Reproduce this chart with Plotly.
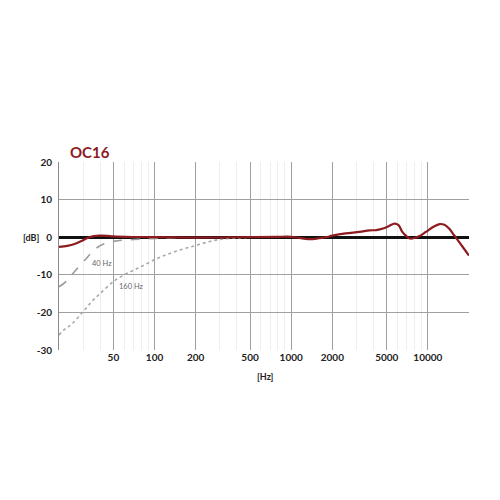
import plotly.graph_objects as go
import numpy as np

# Main response (OC16)
main_hz = [20, 23, 26, 30, 33, 36, 40, 45, 50, 70, 100, 200, 500, 800, 1000, 1150, 1330, 1550, 1800, 2000, 2500, 3160, 3740, 4190, 4700, 5200, 5700, 6100, 6500, 7000, 7400, 8000, 8700, 9660, 11000, 12200, 13200, 14300, 15200, 16100, 18000, 20000]
main_db = [-2.6, -2.3, -1.8, -0.8, -0.1, 0.3, 0.4, 0.35, 0.2, 0.05, 0.0, -0.1, 0.0, 0.1, 0.1, -0.2, -0.5, -0.35, 0.0, 0.4, 1.0, 1.4, 1.8, 1.9, 2.3, 3.0, 3.6, 3.2, 1.4, 0.2, -0.35, -0.2, 0.3, 1.4, 2.8, 3.5, 3.3, 2.3, 1.0, -0.2, -2.6, -4.9]

# 40 Hz low-cut
lc40_hz = [20, 22.5, 24.7, 28, 31.8, 35, 38.6, 42, 45.7, 50, 57.3, 70, 90, 120, 150]
lc40_db = [-13.2, -11.8, -10.1, -7.8, -5.6, -3.9, -2.6, -1.9, -1.4, -1.1, -0.8, -0.6, -0.4, -0.2, -0.1]

# 160 Hz low-cut
lc160_hz = [20, 22, 25, 30, 35, 40, 50, 60, 70, 80, 100, 125, 160, 200, 250, 300, 400, 500]
lc160_db = [-26.0, -24.5, -23.0, -19.8, -17.0, -15.0, -11.8, -10.0, -8.8, -7.8, -6.0, -4.5, -3.2, -2.2, -1.2, -0.6, -0.2, 0.0]

x_ticks = [50, 100, 200, 500, 1000, 2000, 5000, 10000]
x_tick_labels = ["50", "100", "200", "500", "1000", "2000", "5000", "10000"]
x_minor = [30, 40, 60, 70, 80, 90, 300, 400, 600, 700, 800, 900, 3000, 4000, 6000, 7000, 8000, 9000]
y_ticks = [-30, -20, -10, 0, 10, 20]
y_tick_labels = ["-30", "-20", "-10", "0", "10", "20"]
y_grid = [-20, -10, 10]

RED = "#8e1b1f"
FONT = "Lato"

fig = go.Figure()
fig.add_trace(go.Scatter(x=lc160_hz, y=lc160_db, mode="lines", line=dict(color="#a8a8a8", width=1.6, dash="dot"), line_shape="spline", hoverinfo="skip"))
fig.add_trace(go.Scatter(x=lc40_hz, y=lc40_db, mode="lines", line=dict(color="#9a9a9a", width=1.6, dash="dash"), line_shape="spline", hoverinfo="skip"))
fig.add_trace(go.Scatter(x=main_hz, y=main_db, mode="lines", line=dict(color=RED, width=2.2), line_shape="spline", hoverinfo="skip"))

# page body has an 8px default margin, so the figure is offset by 8px
fig.update_layout(
    width=500, height=500,
    margin=dict(l=51, r=39, t=154, b=158, autoexpand=False),
    paper_bgcolor="white", plot_bgcolor="white",
    showlegend=False,
    font=dict(family=FONT, color="#222222"),
    xaxis=dict(
        type="log", range=[np.log10(20), np.log10(20000)],
        tickvals=x_ticks, ticktext=x_tick_labels,
        tickfont=dict(size=10, family=FONT, color="#222222", weight="bold"),
        showgrid=True, gridcolor="#a0a0a0", gridwidth=1,
        minor=dict(tickvals=x_minor, showgrid=True, gridcolor="#eeeeee", gridwidth=1),
        showline=False, zeroline=False, ticks="", automargin=False,
    ),
    yaxis=dict(
        range=[-30, 20],
        tickvals=y_ticks, ticktext=y_tick_labels,
        tickfont=dict(size=10, family=FONT, color="#222222", weight="bold"),
        showgrid=False,
        minor=dict(tickvals=y_grid, showgrid=True, gridcolor="#a0a0a0", gridwidth=1),
        showline=True, linecolor="#8a8a8a", linewidth=1,
        zeroline=True, zerolinecolor="#111111", zerolinewidth=2.5,
        ticks="", ticklabelstandoff=4, automargin=False,
    ),
    annotations=[
        dict(text="OC16", xref="paper", yref="paper", x=0.022, y=1.0, yshift=-1, xanchor="left", yanchor="bottom",
             showarrow=False, font=dict(size=15, color=RED, family=FONT, weight="bold")),
        dict(text="[dB]", xref="paper", yref="y", x=0, xshift=-28, y=0, xanchor="center", yanchor="middle",
             showarrow=False, font=dict(size=9, color="#222222", family=FONT, weight="bold")),
        dict(text="[Hz]", xref="paper", yref="paper", x=0.504, y=0, yshift=-26, xanchor="center", yanchor="middle",
             showarrow=False, font=dict(size=9, color="#222222", family=FONT, weight="bold")),
        dict(text="40 Hz", x=np.log10(34), y=-7.0, xanchor="left", yanchor="middle", showarrow=False,
             font=dict(size=7.5, color="#666666", family=FONT)),
        dict(text="160 Hz", x=np.log10(53), y=-13.2, xanchor="left", yanchor="middle", showarrow=False,
             font=dict(size=7.5, color="#666666", family=FONT)),
    ],
)

fig.write_html("out.html")
